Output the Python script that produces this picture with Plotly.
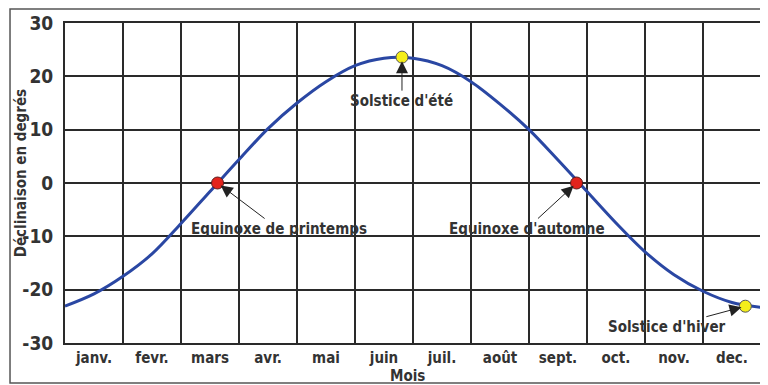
import plotly.graph_objects as go

# --- DATA ---
months = ["janv.", "fevr.", "mars", "avr.", "mai", "juin",
          "juil.", "août", "sept.", "oct.", "nov.", "dec."]
month_pos = [0.5, 1.5, 2.5, 3.5, 4.5, 5.5, 6.5, 7.5, 8.5, 9.5, 10.5, 11.5]
month_edges = [0, 1, 2, 3, 4, 5, 6, 7, 8, 9, 10, 11, 12]
y_ticks = [-30, -20, -10, 0, 10, 20, 30]
y_labels = ["-30", "-20", "-10", "0", "10", "20", "30"]

curve_x = [0, 0.5, 1, 1.5, 2, 2.5, 3, 3.5, 4, 4.5, 5, 5.5, 6, 6.5, 7, 7.5,
           8, 8.5, 9, 9.5, 10, 10.5, 11, 11.5, 12]
declination = [-23.1, -20.8, -17.5, -13.3, -7.6, -1.6, 4.4, 10.2, 15.0, 19.0,
               22.0, 23.4, 23.4, 22.0, 19.0, 14.8, 10.0, 4.3, -1.6, -7.5,
               -12.9, -17.2, -20.3, -22.4, -23.3]

equinox_x = [2.63, 8.82]
equinox_y = [0, 0]
solstice_x = [5.81, 11.73]
solstice_y = [23.6, -23.1]

FONT = "DejaVu Sans Condensed, Liberation Sans Narrow, sans-serif"
TXT = "#333333"
GRID = "#2a2a2a"

fig = go.Figure()

fig.add_trace(go.Scatter(
    x=curve_x, y=declination, mode="lines",
    line=dict(color="#2a47a3", width=3, shape="spline", smoothing=0.9),
    hoverinfo="skip", showlegend=False
))
fig.add_trace(go.Scatter(
    x=equinox_x, y=equinox_y, mode="markers",
    marker=dict(size=12, color="#e3231c", line=dict(color="#5a1a1a", width=1)),
    showlegend=False
))
fig.add_trace(go.Scatter(
    x=solstice_x, y=solstice_y, mode="markers",
    marker=dict(size=12, color="#f4ee1b", line=dict(color="#555555", width=1)),
    showlegend=False
))

# labels with arrows (text offset in pixels from the point)
labels = [
    ("Solstice d'été", solstice_x[0], solstice_y[0], 0, 44),
    ("Equinoxe de printemps", equinox_x[0], equinox_y[0], 61, 46),
    ("Equinoxe d'automne", equinox_x[1], equinox_y[1], -50, 46),
    ("Solstice d'hiver", solstice_x[1], solstice_y[1], -78, 21),
]
for text, x, y, ax, ay in labels:
    fig.add_annotation(
        x=x, y=y, text=text, ax=ax, ay=ay,
        showarrow=True, arrowhead=2, arrowsize=2.4, arrowwidth=1,
        arrowcolor="#222222", standoff=4,
        font=dict(family=FONT, size=15, color=TXT, weight="bold")
    )

# axis titles
fig.add_annotation(xref="paper", yref="paper", x=-0.062, y=0.53,
                   xanchor="center", yanchor="middle",
                   text="Déclinaison en degrés", textangle=-90, showarrow=False,
                   font=dict(family=FONT, size=15, color=TXT, weight="bold"))
fig.add_annotation(xref="paper", yref="paper", x=0.492, y=-0.103,
                   xanchor="center", yanchor="middle",
                   text="Mois", showarrow=False,
                   font=dict(family=FONT, size=15, color=TXT, weight="bold"))

# outer frame
fig.add_shape(type="rect", xref="paper", yref="paper",
              x0=-0.079, x1=1.03, y0=-0.125, y1=1.044,
              line=dict(color="#555555", width=1.5), layer="below")

fig.update_layout(
    width=768, height=385,
    margin=dict(l=57, r=15, t=15, b=50),
    plot_bgcolor="white", paper_bgcolor="white",
    font=dict(family=FONT, color=TXT, weight="bold"),
    xaxis=dict(
        range=[0, 12], tickmode="array", tickvals=month_pos, ticktext=months,
        showgrid=False, zeroline=False, ticks="", automargin=False,
        tickfont=dict(size=15, family=FONT, color=TXT, weight="bold"),
        minor=dict(tickmode="array", tickvals=month_edges, showgrid=True,
                   gridcolor=GRID, gridwidth=2, ticks=""),
        showline=True, linecolor=GRID, linewidth=2, mirror=True,
        fixedrange=True
    ),
    yaxis=dict(
        range=[-30, 30], tickmode="array", tickvals=y_ticks, ticktext=y_labels,
        showgrid=True, gridcolor=GRID, gridwidth=2, zeroline=False,
        ticks="", ticklabelstandoff=6, automargin=False,
        tickfont=dict(size=19, family=FONT, color=TXT, weight="bold"),
        showline=True, linecolor=GRID, linewidth=2, mirror=True,
        fixedrange=True
    ),
)

fig.write_html("out.html")
